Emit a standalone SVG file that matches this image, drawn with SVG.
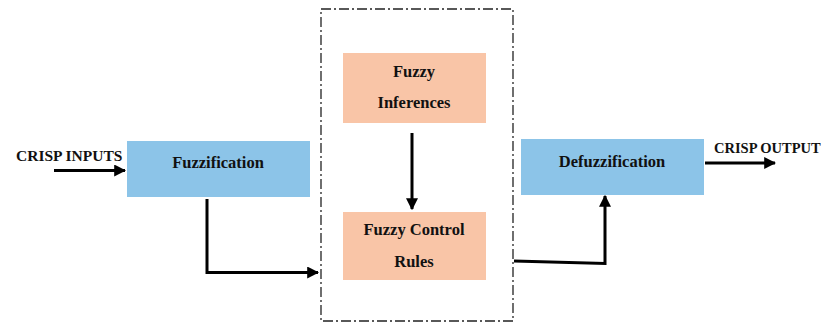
<svg xmlns="http://www.w3.org/2000/svg" width="821" height="324" viewBox="0 0 821 324">
  <defs>
    <marker id="arrow" viewBox="0 0 10 10" refX="9" refY="5" markerWidth="4" markerHeight="4" orient="auto" markerUnits="strokeWidth">
      <path d="M0,0 L10,5 L0,10 z" fill="#000"/>
    </marker>
    <style>
      .blue { fill: #8CC4E8; }
      .peach { fill: #F9C5A7; }
      .label { font-family: "Liberation Serif", "Times New Roman", "DejaVu Serif", serif; font-weight: bold; font-size: 16.5px; fill: #111; text-anchor: middle; }
      .io { font-family: "Liberation Serif", "Times New Roman", "DejaVu Serif", serif; font-weight: bold; font-size: 15.5px; fill: #111; }
      .wire { fill: none; stroke: #000; stroke-width: 3; marker-end: url(#arrow); }
    </style>
  </defs>

  <rect width="821" height="324" fill="#fff"/>

  <!-- inference engine boundary -->
  <rect id="engine" x="321" y="9" width="192" height="312" fill="none" stroke="#222" stroke-width="1.3" stroke-dasharray="10,3,2,3"/>

  <g id="fuzzification">
    <rect class="blue" x="127" y="141" width="183" height="56"/>
    <text class="label" x="218" y="168">Fuzzification</text>
  </g>

  <g id="inferences">
    <rect class="peach" x="343" y="53" width="143" height="70"/>
    <text class="label" x="414" y="77">Fuzzy</text>
    <text class="label" x="414" y="108">Inferences</text>
  </g>

  <g id="rules">
    <rect class="peach" x="343" y="212" width="143" height="68"/>
    <text class="label" x="414" y="235">Fuzzy Control</text>
    <text class="label" x="414" y="267">Rules</text>
  </g>

  <g id="defuzzification">
    <rect class="blue" x="521" y="139" width="183" height="56"/>
    <text class="label" x="612" y="167">Defuzzification</text>
  </g>

  <g id="crisp-inputs">
    <text class="io" x="16" y="161">CRISP INPUTS</text>
  </g>

  <g id="crisp-output">
    <text class="io" x="714" y="153" style="font-size:14.5px">CRISP OUTPUT</text>
  </g>

  <g id="connectors">
    <path class="wire" d="M54,170.5 L125,170.5"/>
    <path class="wire" d="M207,199 L207,272.5 L318,272.5"/>
    <path class="wire" d="M412,133 L412,209"/>
    <path class="wire" d="M514,261 L605,263.5 L605,196"/>
    <path class="wire" d="M705,163 L775,163"/>
  </g>
</svg>
